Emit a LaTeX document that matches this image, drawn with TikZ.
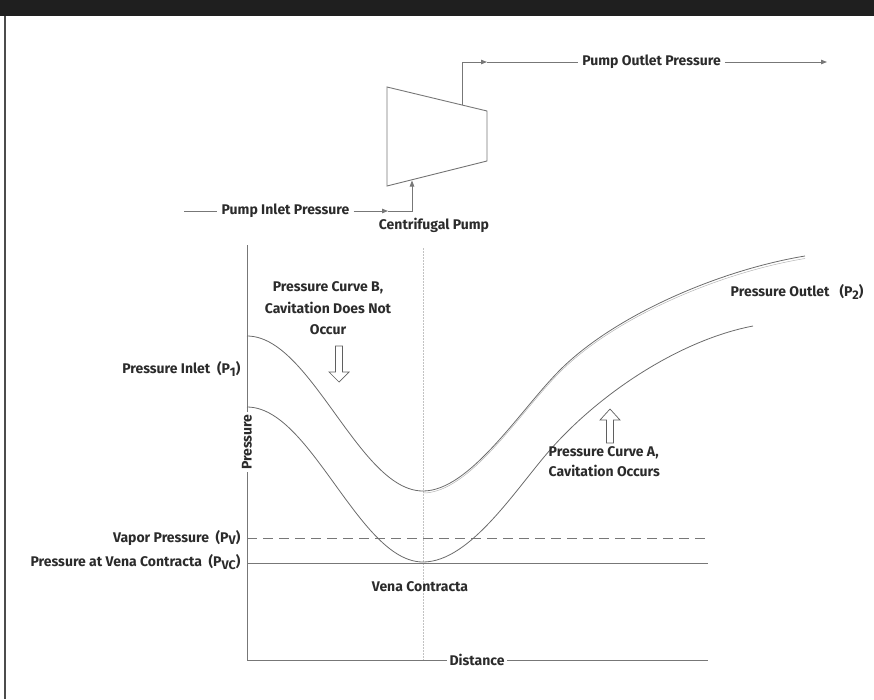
\documentclass[tikz,border=0pt]{standalone}
\usepackage{fontspec}
\setmainfont{Fira Sans}
\usetikzlibrary{arrows.meta}
\definecolor{ln}{HTML}{777777}
\definecolor{tx}{HTML}{2B2B2B}
\tikzset{
  lbl/.style={font=\fontsize{14}{17}\selectfont\bfseries, text=tx, inner sep=1.5pt},
  clbl/.style={lbl, inner sep=4pt},
  conn/.style={draw=ln, line width=0.9pt},
  tipr/.style={-{Triangle[length=6pt,width=4.5pt]}},
  curve/.style={draw=ln!90!black, line width=0.8pt},
  hollow/.style={draw=ln!80!black, fill=white, line width=0.7pt},
  vc/.style={draw=ln!45, line width=0.6pt, dash pattern=on 1.5pt off 1.5pt}
}
\newcommand{\sub}[1]{\raisebox{-2.5pt}{\fontsize{12.5}{12}\selectfont #1}}
\begin{document}
\begin{tikzpicture}[x=1pt,y=-1pt]
\useasboundingbox (0,0) rectangle (874,699);
% header band and left border
\fill[black!88] (0,0) rectangle (874,16);
\draw[line width=1.6pt, black!70] (5,16) -- (5,699);

% pump
\coordinate (pA) at (387,87);
\coordinate (pB) at (487,111);
\coordinate (pC) at (487,161);
\coordinate (pD) at (387,186);
\draw[conn] (pA) -- (pB) -- (pC) -- (pD) -- cycle;

% outlet
\coordinate (outBase) at (462,105);
\coordinate (outMid) at (487,62);
\node[clbl] (outT) at (651.5,62) {Pump Outlet Pressure};
\coordinate (outEnd) at (827,62);
\draw[conn,tipr] (outBase) |- (outMid);
\draw[conn] (outMid) -- (outT.west);
\draw[conn,tipr] (outT.east) -- (outEnd);

% inlet
\coordinate (inStart) at (184,211);
\node[clbl] (inT) at (285.5,211) {Pump Inlet Pressure};
\coordinate (inMid) at (388,211);
\coordinate (inEnd) at (412,180.5);
\draw[conn] (inStart) -- (inT.west);
\draw[conn,tipr] (inT.east) -- (inMid);
\draw[conn,tipr] (inMid) -| (inEnd);
\node[lbl] (cp) at (434,225) {Centrifugal Pump};

% axes
\coordinate (Ytop) at (247,245);
\coordinate (O) at (247,660);
\coordinate (Xend) at (708,660);
\draw[vc] (423,248) -- (423,660);
\draw[conn] (Ytop) -- (O) -- (Xend);
\draw[conn, dash pattern=on 10pt off 6pt] (247,538) -- (708,538);
\draw[conn] (247,563) -- (708,563);

% curve B (double line)
\coordinate (bM) at (423,491);
\coordinate (bK) at (560,370);
\coordinate (bE) at (805,256);
\draw[curve] plot[domain=0:1, samples=50, smooth] ({247+176*\x},{336+155*(1-cos(180*\x))/2});
\draw[curve] (bM) .. controls (470,491) and (520,410) .. (bK) .. controls (615,315) and (720,270) .. (bE);
\draw[draw=ln!55, line width=0.5pt] (423,493) .. controls (470,493) and (520,412) .. (560,372) .. controls (615,317) and (720,272.5) .. (805,258.5);
% curve A
\coordinate (aM) at (423,562);
\coordinate (aK) at (550,450);
\coordinate (aE) at (753,326);
\draw[curve] plot[domain=0:1, samples=50, smooth] ({247+176*\x},{407+155*(1-cos(180*\x))/2});
\draw[curve] (aM) .. controls (470,562) and (515,490) .. (aK) .. controls (600,393) and (680,340) .. (aE);

% hollow arrows
\draw[hollow] (335.5,346) -- (342.5,346) -- (342.5,372) -- (349,372) -- (339,382) -- (329,372) -- (335.5,372) -- cycle;
\draw[hollow] (606.5,443) -- (613.5,443) -- (613.5,420) -- (620,420) -- (610,409) -- (600,420) -- (606.5,420) -- cycle;

% labels
\node[clbl, fill=white, inner sep=3pt] (dist) at (477,660) {Distance};
\node[lbl, fill=white, inner sep=2pt, rotate=90] (pr) at (247,442) {Pressure};
\node[lbl, anchor=east] (p1) at (242,369) {Pressure Inlet\ \ (P\sub{1})};
\node[lbl, anchor=east] (pv) at (242,538) {Vapor Pressure\ \ (P\sub{V})};
\node[lbl, anchor=east] (pvc) at (242,562) {Pressure at Vena Contracta\ \ (P\sub{VC})};
\node[lbl] (vct) at (420,587) {Vena Contracta};
\node[lbl, anchor=west] (p2) at (729,292) {Pressure Outlet\ \ \ (P\sub{2})};
\node[lbl, align=center, font=\fontsize{14}{21.5}\selectfont\bfseries] (cb) at (328,308.5) {Pressure Curve B,\\Cavitation Does Not\\Occur};
\node[lbl, align=left, anchor=west, font=\fontsize{14}{20}\selectfont\bfseries] (ca) at (547,462) {Pressure Curve A,\\Cavitation Occurs};
\end{tikzpicture}
\end{document}
